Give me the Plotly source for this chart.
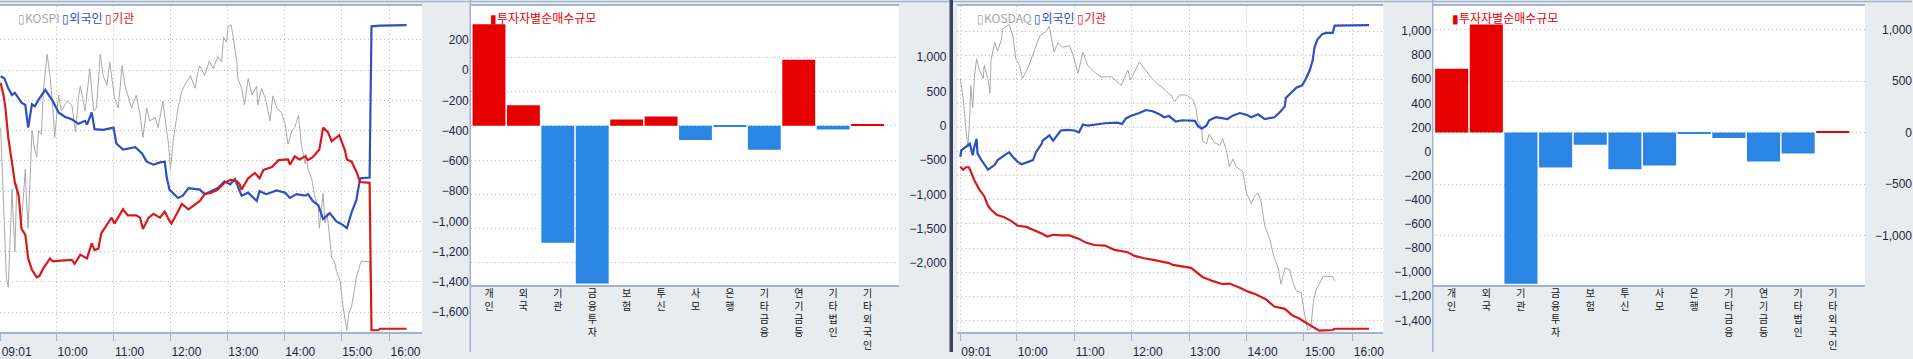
import plotly.graph_objects as go

# ---------------- data ----------------
# x for the intraday lines = session minute index (09:00 = 0); after the 15:30 close
# the feed is compressed, so the "16:00" tick sits at index 411.
time_tick_pos = [1, 60, 120, 180, 240, 300, 360, 411]
time_tick_text = ["09:01", "10:00", "11:00", "12:00", "13:00", "14:00", "15:00", "16:00"]

# KOSPI index path (read against the panel's right scale)
kospi_t = [1, 7, 9, 11, 13, 14, 16, 18, 20, 23, 27, 28, 30, 34, 37, 39, 41, 44, 46, 50, 53, 56, 58, 62, 65,
           71, 76, 80, 83, 85, 90, 95, 99, 102, 106, 109, 113, 116, 121, 125, 129, 132, 135, 139, 144, 148,
           151, 155, 158, 164, 167, 172, 176, 178, 180, 183, 188, 192, 195, 201, 206, 209, 211, 216, 221,
           225, 230, 234, 236, 239, 241, 244, 246, 250, 251, 255, 258, 262, 266, 271, 272, 276, 280, 285,
           288, 292, 297, 301, 304, 308, 311, 315, 316, 318, 322, 323, 325, 329, 332, 336, 337, 341, 343,
           345, 348, 350, 353, 355, 359, 362, 366, 368, 371, 373, 376, 380, 381, 390, 391]
kospi_v = [-380, -1370, -1435, -1045, -785, -945, -1200, -750, -830, -1010, -655, -830, -1045, -400, -530,
           -575, -400, -425, -140, 105, -35, -250, -445, -165, -270, -205, -230, -410, -185, -105, -270, 10,
           -270, -250, 105, -35, -100, 55, -185, -250, 30, -100, -165, -250, -165, -295, -445, -250, -335,
           -315, -380, -205, -400, -490, -655, -465, -250, -140, -100, -35, -120, -10, 30, -35, 60, 10, 90,
           55, 220, 185, 290, 300, 225, 55, -55, -120, -230, -55, -165, -105, -230, -120, -185, -335, -170,
           -250, -280, -360, -490, -400, -380, -300, -360, -490, -620, -555, -655, -720, -830, -915, -1045,
           -815, -1010, -945, -1110, -1240, -1265, -1330, -1395, -1565, -1720, -1610, -1565, -1480, -1370,
           -1285, -1265, -1265, -1435]

kospi_foreign_t = [1, 5, 9, 13, 16, 20, 23, 27, 30, 34, 37, 41, 48, 56, 62, 69, 76, 83, 90, 92, 97, 100, 109,
                   120, 123, 130, 143, 150, 155, 162, 169, 174, 176, 179, 188, 193, 199, 211, 216, 230, 237,
                   243, 248, 255, 262, 271, 274, 281, 292, 301, 306, 313, 322, 325, 330, 336, 341, 348, 355,
                   362, 366, 371, 376, 380, 390, 391, 392, 401, 429]
kospi_foreign = [-40, -55, -120, -165, -150, -185, -215, -230, -380, -225, -240, -195, -130, -205, -280, -310,
                 -325, -355, -335, -360, -280, -390, -395, -380, -485, -525, -510, -550, -605, -625, -610,
                 -605, -705, -790, -845, -830, -780, -790, -820, -780, -735, -755, -720, -830, -810, -865,
                 -800, -820, -795, -810, -845, -820, -830, -820, -865, -895, -985, -945, -1000, -1025, -1045,
                 -940, -860, -715, -710, -205, 290, 295, 298]

kospi_inst_t = [1, 4, 6, 9, 13, 16, 20, 23, 27, 30, 34, 39, 42, 46, 53, 56, 64, 76, 79, 85, 92, 97, 100, 104,
                107, 113, 118, 121, 128, 130, 135, 144, 148, 151, 157, 162, 169, 174, 178, 181, 188, 192, 199,
                204, 211, 216, 223, 230, 237, 243, 250, 253, 255, 262, 269, 274, 278, 287, 294, 304, 306, 311,
                316, 322, 325, 330, 337, 341, 346, 350, 358, 364, 366, 371, 376, 380, 390, 391, 392, 399, 401,
                429]
kospi_inst = [-85, -165, -250, -445, -615, -745, -830, -1050, -1090, -1245, -1320, -1370, -1360, -1310, -1245,
              -1265, -1260, -1255, -1280, -1220, -1245, -1145, -1190, -1180, -1080, -1025, -975, -1015, -940,
              -920, -960, -960, -975, -1050, -975, -950, -975, -935, -985, -1015, -935, -885, -920, -895, -865,
              -820, -810, -790, -745, -725, -735, -755, -790, -715, -680, -715, -660, -640, -595, -590, -625,
              -570, -590, -570, -595, -575, -525, -380, -410, -470, -430, -530, -590, -605, -670, -740, -745,
              -1245, -1720, -1720, -1710, -1710]

# KOSDAQ index path (read against the panel's right scale)
kosdaq_t = [1, 2, 4, 7, 9, 11, 12, 14, 16, 18, 21, 25, 26, 30, 32, 33, 37, 40, 44, 45, 52, 56, 59, 63, 66, 72,
            79, 84, 91, 94, 99, 103, 108, 115, 119, 124, 129, 134, 141, 148, 159, 169, 176, 179, 188, 193, 200,
            206, 211, 216, 221, 225, 230, 237, 244, 247, 249, 253, 254, 258, 261, 266, 272, 275, 279, 282, 286,
            289, 296, 300, 305, 308, 312, 315, 319, 324, 329, 333, 336, 340, 345, 348, 352, 357, 360, 364, 367,
            370, 373, 376, 380, 390, 392]
kosdaq_v = [605, 550, 445, 175, 35, 310, 550, 365, 635, 770, 675, 605, 715, 595, 485, 755, 905, 835, 930, 1015,
            1055, 960, 770, 715, 605, 700, 850, 960, 1000, 1040, 825, 905, 865, 880, 795, 650, 825, 715, 660,
            620, 620, 550, 675, 595, 745, 690, 620, 565, 540, 500, 470, 415, 470, 470, 430, 365, 255, 200, 90,
            65, 145, 80, 50, 105, 10, -125, -60, -125, -165, -345, -435, -370, -345, -410, -615, -720, -885,
            -965, -1100, -965, -980, -1075, -1155, -1170, -1320, -1480, -1470, -1235, -1140, -1100, -1035,
            -1035, -1075]

kosdaq_foreign_t = [1, 2, 11, 14, 16, 18, 19, 23, 30, 37, 40, 47, 52, 56, 61, 65, 77, 80, 86, 87, 94, 98, 106,
                    113, 120, 125, 129, 134, 141, 152, 165, 170, 174, 179, 188, 195, 202, 209, 214, 219, 226,
                    233, 246, 249, 253, 258, 261, 268, 280, 286, 293, 300, 305, 312, 319, 324, 329, 334, 340,
                    341, 346, 352, 358, 362, 366, 369, 371, 374, 379, 383, 390, 392, 428]
kosdaq_foreign = [-45, 10, 65, -30, 50, 105, -15, -70, -150, -110, -70, -30, -5, -45, -85, -105, -70, -5, 65,
                  90, 135, 90, 175, 180, 175, 160, 225, 215, 225, 235, 240, 230, 275, 295, 320, 345, 335, 310,
                  285, 295, 250, 260, 255, 215, 190, 215, 260, 285, 270, 300, 320, 305, 285, 310, 270, 275, 285,
                  320, 375, 445, 485, 530, 550, 605, 675, 755, 865, 930, 975, 985, 985, 1045, 1050]

kosdaq_inst_t = [1, 4, 7, 10, 12, 16, 21, 26, 30, 33, 39, 47, 54, 61, 70, 79, 86, 92, 98, 106, 115, 124, 132,
                 141, 152, 162, 176, 183, 193, 204, 219, 223, 237, 242, 254, 265, 275, 282, 293, 301, 310, 320,
                 329, 340, 348, 355, 362, 369, 376, 390, 392, 428]
kosdaq_inst = [-125, -150, -130, -130, -165, -245, -315, -370, -450, -480, -525, -545, -575, -615, -625, -655,
               -680, -705, -690, -695, -695, -720, -755, -775, -780, -815, -835, -865, -885, -900, -925, -940,
               -955, -965, -1040, -1075, -1100, -1095, -1130, -1160, -1185, -1225, -1285, -1305, -1360, -1385,
               -1420, -1450, -1485, -1480, -1470, -1470]

# net buying by investor type
categories = ["개인", "외국", "기관", "금융투자", "보험", "투신", "사모", "은행",
              "기타금융", "연기금등", "기타법인", "기타외국인"]
kospi_net = [1480, 300, -1707, -2302, 90, 137, -206, -12, -349, 962, -53, 15]
kosdaq_net = [620, 1048, -1466, -338, -119, -357, -319, -14, -52, -281, -204, 14]

kospi_line_ticks = list(range(-1600, 201, 200))
kosdaq_line_ticks = list(range(-1400, 1001, 200))
kospi_bar_ticks = list(range(-2000, 1001, 500))
kosdaq_bar_ticks = list(range(-1000, 1001, 500))

# ---------------- style ----------------
W, H = 1913, 359
BG = "#e7ecf1"
BORDER = "#a3b4cc"
GRID = "#bdbdbd"
LABEL = "#1d2742"
BLUE_LINE = "#2e4fc2"
RED_LINE = "#d7191e"
GRAY_LINE = "#a9a9a9"
BAR_RED = "#e60000"
BAR_BLUE = "#2b85e5"
NUMFONT = dict(family="Liberation Sans, Arial", size=12, color=LABEL)
KRFONT = "Noto Sans CJK KR"
DOT = "1px,3px"


def fx(p):
    return p / W


def fy(p):
    return 1 - p / H


line_ydom = [fy(339), fy(6)]
bar_ydom = [fy(291), fy(6)]

fig = go.Figure()


def add_lines(t_idx, idx_v, tf, vf, ti, vi, xa, ya):
    fig.add_trace(go.Scatter(x=t_idx, y=idx_v, mode="lines", line=dict(color=GRAY_LINE, width=1),
                             xaxis=xa, yaxis=ya, hoverinfo="skip", showlegend=False))
    fig.add_trace(go.Scatter(x=tf, y=vf, mode="lines", line=dict(color=BLUE_LINE, width=2.2),
                             xaxis=xa, yaxis=ya, showlegend=False))
    fig.add_trace(go.Scatter(x=ti, y=vi, mode="lines", line=dict(color=RED_LINE, width=2.2),
                             xaxis=xa, yaxis=ya, showlegend=False))


add_lines(kospi_t, kospi_v, kospi_foreign_t, kospi_foreign, kospi_inst_t, kospi_inst, "x", "y")
add_lines(kosdaq_t, kosdaq_v, kosdaq_foreign_t, kosdaq_foreign, kosdaq_inst_t, kosdaq_inst, "x4", "y5")

vlabels = ["<br>".join(c) for c in categories]
fig.add_trace(go.Bar(x=categories, y=kospi_net, xaxis="x2", yaxis="y3", showlegend=False,
                     marker=dict(color=[BAR_RED if v > 0 else BAR_BLUE for v in kospi_net], line=dict(width=0))))
fig.add_trace(go.Bar(x=categories, y=kosdaq_net, xaxis="x5", yaxis="y7", showlegend=False,
                     marker=dict(color=[BAR_RED if v > 0 else BAR_BLUE for v in kosdaq_net], line=dict(width=0))))


def time_axis(dom, rng, anchor):
    return dict(domain=dom, range=rng, anchor=anchor, tickmode="array", tickvals=time_tick_pos,
                ticktext=time_tick_text, ticks="outside", ticklen=7, tickcolor=BORDER, showgrid=True,
                gridcolor=GRID, griddash=DOT, gridwidth=1, showline=True, linecolor=BORDER, linewidth=1.5,
                mirror=True, tickfont=NUMFONT, ticklabelshift=16, zeroline=False)


def label_axis(dom, rng, pos, tickvals):
    # data axis; its labels are right-aligned in the column right of the plot
    return dict(domain=dom, range=rng, anchor="free", position=pos, side="left", tickmode="array",
                tickvals=tickvals, tickformat=",d", showgrid=True, gridcolor=GRID, griddash=DOT,
                zeroline=False, showline=False, ticks="", tickfont=NUMFONT)


def tick_axis(over, anchor, rng, dtick, ticklen, minor_len, mirror):
    d = dict(overlaying=over, anchor=anchor, side="right", range=rng, tickmode="linear", tick0=0, dtick=dtick,
             ticks="outside", ticklen=ticklen, tickcolor=BORDER, showticklabels=False, showgrid=False,
             zeroline=False, showline=True, linecolor=BORDER, linewidth=1.5, mirror=mirror)
    if minor_len:
        d["minor"] = dict(ticks="outside", ticklen=minor_len, dtick=100, tick0=0, tickcolor=BORDER, showgrid=False)
    return d


def cat_axis(dom, rng, anchor):
    return dict(domain=dom, range=rng, anchor=anchor, type="category", tickmode="array", tickvals=categories,
                ticktext=vlabels, ticks="", showgrid=False, showline=True, linecolor=BORDER, linewidth=1.5,
                mirror=True, tickangle=0, ticklabelstandoff=-2,
                tickfont=dict(family=KRFONT, size=10, color="#151515"))


def boundary_axis(over, anchor, rng):
    return dict(overlaying=over, anchor=anchor, side="bottom", range=rng, type="linear", tickmode="array",
                tickvals=[i - 0.5 for i in range(len(categories))], ticks="outside", ticklen=23,
                tickcolor=BORDER, tickwidth=1.5, showticklabels=False, showgrid=False, zeroline=False,
                showline=False)


r1x, r1y = [0.3, 445], [-1734, 425]
r2x, r2y = [-0.53, 11.9], [-2327, 1749]
r3x, r3y = [-1.9, 442.8], [-1500, 1209]
r4x, r4y = [-0.56, 11.93], [-1482, 1229]

fig.update_layout(
    width=W, height=H, margin=dict(l=0, r=0, t=0, b=0), autosize=False,
    paper_bgcolor=BG, plot_bgcolor="white", bargap=0.045, showlegend=False,
    xaxis=time_axis([fx(0), fx(422)], r1x, "y"),
    yaxis=label_axis(line_ydom, r1y, fx(469), kospi_line_ticks),
    yaxis2=tick_axis("y", "x", r1y, 100, 5, 0, False),
    xaxis2=cat_axis([fx(471), fx(899)], r2x, "y3"),
    xaxis3=boundary_axis("x2", "y3", r2x),
    yaxis3=label_axis(bar_ydom, r2y, fx(947), kospi_bar_ticks),
    yaxis4=tick_axis("y3", "x2", r2y, 500, 8, 4, False),
    xaxis4=time_axis([fx(958), fx(1384)], r3x, "y5"),
    yaxis5=label_axis(line_ydom, r3y, fx(1432), kosdaq_line_ticks),
    yaxis6=tick_axis("y5", "x4", r3y, 100, 5, 0, True),
    xaxis5=cat_axis([fx(1433), fx(1866)], r4x, "y7"),
    xaxis6=boundary_axis("x5", "y7", r4x),
    yaxis7=label_axis(bar_ydom, r4y, 1.0, kosdaq_bar_ticks),
    yaxis8=tick_axis("y7", "x5", r4y, 500, 8, 4, False),
)


def legend_text(index_name):
    return (f'<span style="color:#a6a6a6">▯{index_name}</span> '
            f'<span style="color:{BLUE_LINE}">▯외국인</span> '
            f'<span style="color:#e0141a">▯기관</span>')


for xpix, txt in [(16, legend_text("KOSPI")), (976, legend_text("KOSDAQ")),
                  (488, '<span style="color:#e60000">▮투자자별순매수규모</span>'),
                  (1451, '<span style="color:#e60000">▮투자자별순매수규모</span>')]:
    fig.add_annotation(xref="paper", yref="paper", x=fx(xpix), y=fy(18), xanchor="left", yanchor="middle",
                       text=txt, showarrow=False, font=dict(family=KRFONT, size=12))

shapes = [
    dict(type="line", xref="paper", yref="paper", x0=0, x1=1, y0=fy(1.5), y1=fy(1.5),
         line=dict(color=BORDER, width=1.5)),
    dict(type="line", xref="paper", yref="paper", x0=fx(470.5), x1=fx(470.5), y0=0, y1=1,
         line=dict(color=BORDER, width=1.5)),
    dict(type="line", xref="paper", yref="paper", x0=fx(1433.5), x1=fx(1433.5), y0=0, y1=1,
         line=dict(color=BORDER, width=1.5)),
    dict(type="rect", xref="paper", yref="paper", x0=fx(950), x1=fx(953.5), y0=0, y1=1,
         line=dict(width=0), fillcolor="#3a455d"),
]
fig.update_layout(shapes=shapes)

# the page's default 8px body margin would shift the whole figure; remove it
fig.write_html("out.html", config={"displayModeBar": False},
               post_script="document.body.style.margin='0';document.body.style.overflow='hidden';")
